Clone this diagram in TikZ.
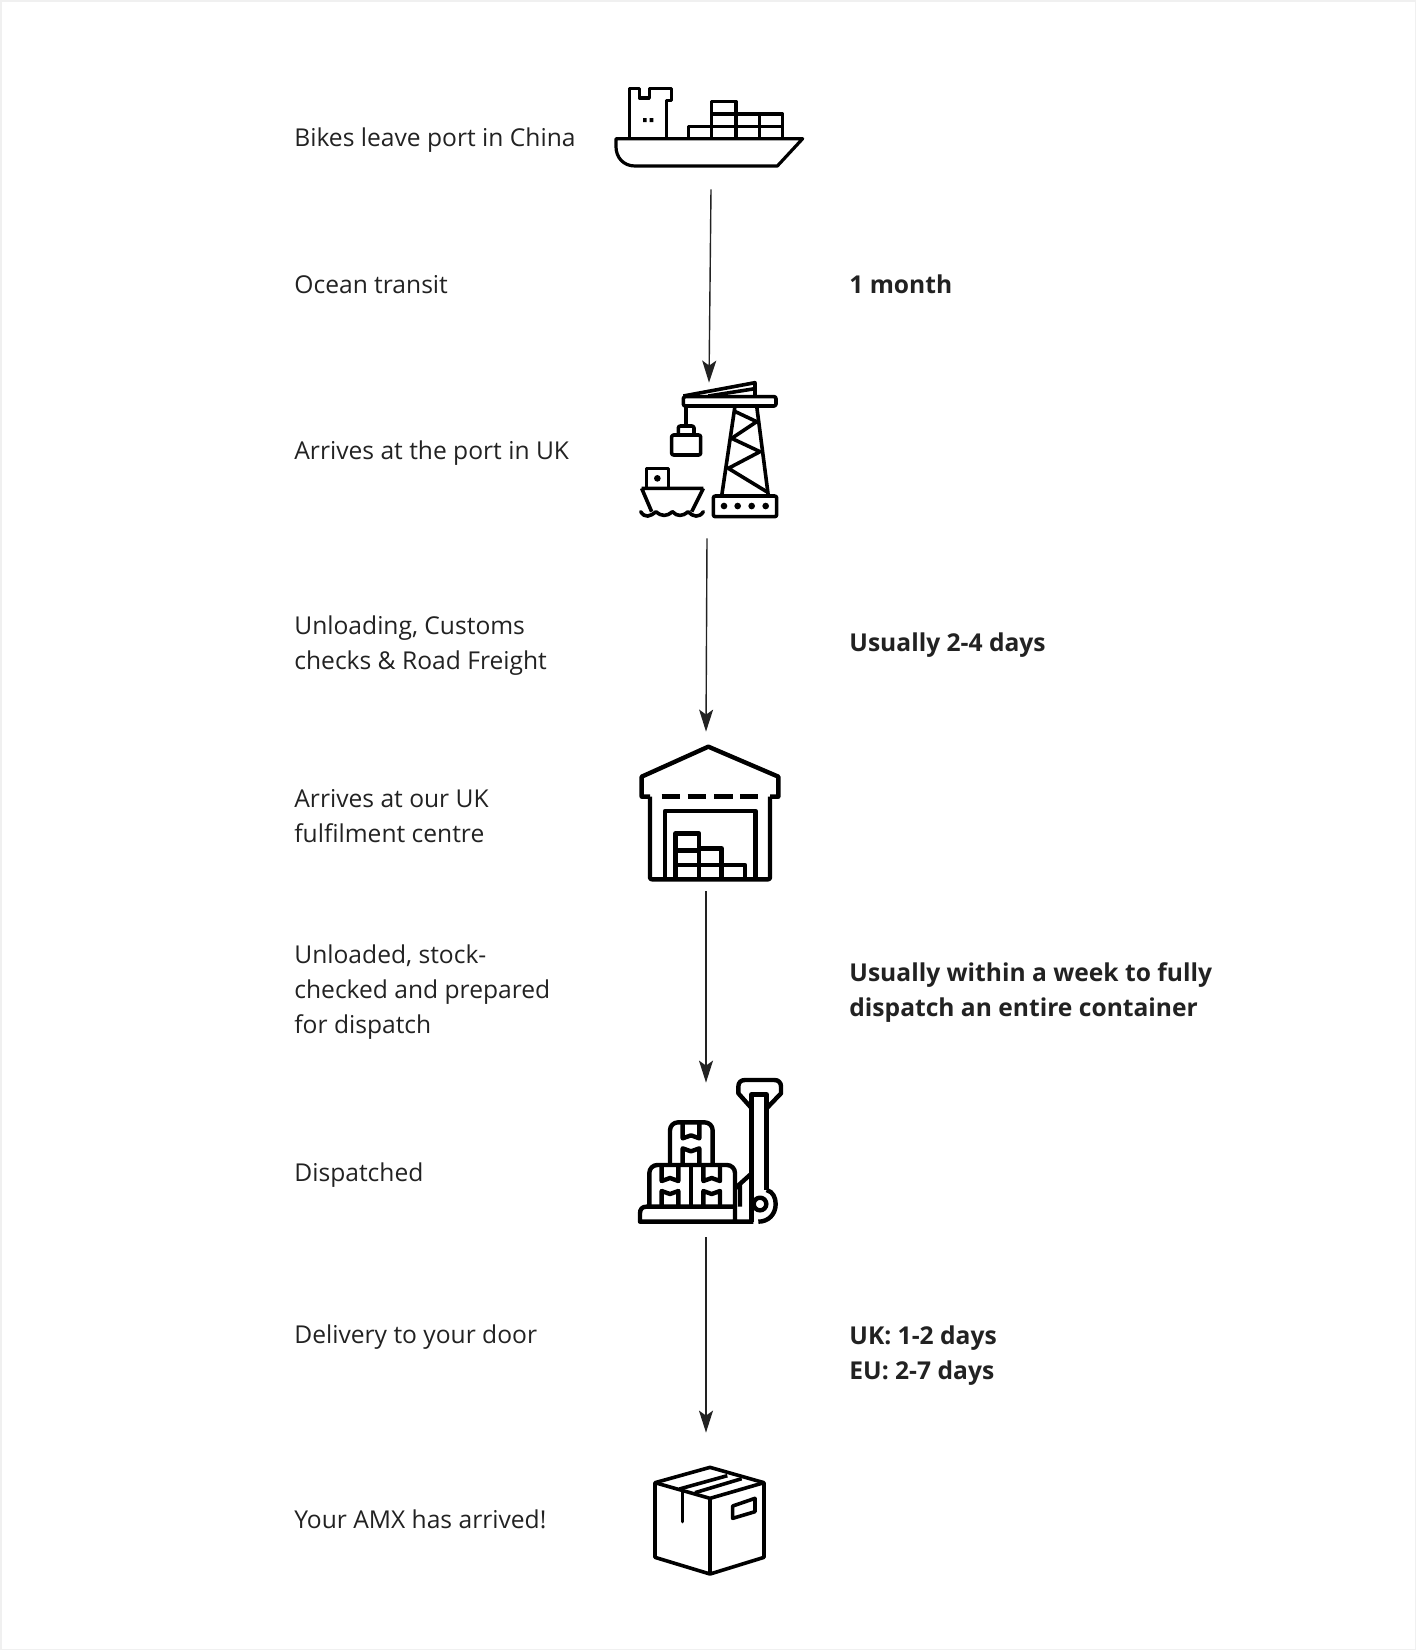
\documentclass[tikz,border=0pt]{standalone}
\usepackage{xcolor}
\usepackage{fontspec}
\setmainfont{Open Sans}
\usetikzlibrary{
  arrows.meta,
  positioning
}
\definecolor{amxInk}{HTML}{222222}
\definecolor{amxEdge}{HTML}{F0F0F0}
\tikzset{
  steplabel/.style={anchor=west, align=left, inner sep=0pt, text=amxInk, font=\fontsize{12.3}{17.5}\selectfont},
  timelabel/.style={steplabel, font=\fontsize{12.3}{17.5}\selectfont\bfseries},
  iconbox/.style={inner sep=0pt, minimum width=75pt},
  flow/.style={-{Stealth[length=11pt, width=7pt, inset=2.5pt]}, line width=0.7pt, amxInk},
  icon/.style={x=0.16667pt, y=-0.16667pt, line join=round, line cap=butt, black},
  thin icon/.style={icon, line width=1.6pt},
  mid icon/.style={icon, line width=1.8pt},
  fat icon/.style={icon, line width=2.2pt}
}
\begin{document}
\begin{tikzpicture}[x=0.5pt, y=-0.5pt]
  \useasboundingbox (0,0) rectangle (1416,1650);
  \draw[amxEdge, line width=1pt] (0.5,0.5) rectangle (1415.5,1649.5);

  \node[steplabel] (bikes) at (294,140) {Bikes leave port in China};
  \node[steplabel] (ocean) at (294,285) {Ocean transit};
  \node[steplabel] (arrport) at (294,453) {Arrives at the port in UK};
  \node[steplabel] (unload) at (294,646) {Unloading, Customs\\checks \& Road Freight};
  \node[steplabel] (arrcentre) at (294,816.5) {Arrives at our UK\\fulfilment centre};
  \node[steplabel] (stock) at (294,992.5) {Unloaded, stock-\\checked and prepared\\for dispatch};
  \node[steplabel] (dispatched) at (294,1175) {Dispatched};
  \node[steplabel] (delivery) at (294,1337) {Delivery to your door};
  \node[steplabel] (arrived) at (294,1519.5) {Your AMX has arrived!};

  \node[timelabel] (month) at (849,284) {1 month};
  \node[timelabel] (days) at (849,645.5) {Usually 2-4 days};
  \node[timelabel] (week) at (849,993) {Usually within a week to fully\\dispatch an entire container};
  \node[timelabel] (uk) at (849,1355.5) {UK: 1-2 days\\EU: 2-7 days};

  \node[iconbox, minimum height=52pt] (ship) at (711,137) {};
  \node[iconbox, minimum height=77.5pt] (crane) at (708,460.5) {};
  \node[iconbox, minimum height=79.5pt] (depot) at (706,811.5) {};
  \node[iconbox, minimum height=77pt] (truck) at (706,1160) {};
  \node[iconbox, minimum height=74pt] (parcel) at (706,1507) {};

  \draw[flow] (ship.south) -- ([xshift=0.5pt]crane.north);
  \draw[flow] ([xshift=-0.5pt]crane.south) -- (depot.north);
  \draw[flow] (depot.south) -- (truck.north);
  \draw[flow] (truck.south) -- (parcel.north);

  % ship
  \begin{scope}[shift={(600,70)}, thin icon]
    \draw (48,206) -- (608,206) -- (532,288) -- (105,288) .. controls (70,288) and (48,262) .. (48,230) -- cycle;
    \draw (88,206) -- (88,56) -- (118,56) -- (118,84) -- (148,84) -- (148,56) -- (215,56) -- (215,92) -- (200,92) -- (200,206);
    \fill (129,144) rectangle (140,156) (149,144) rectangle (160,156);
    \draw (265,206) -- (265,170) -- (548,170) (335,206) -- (335,94) -- (408,94) -- (408,206);
    \draw (335,132) -- (548,132) -- (548,206) (478,132) -- (478,206);
  \end{scope}

  % crane and boat
  \begin{scope}[shift={(620,370)}, mid icon]
    \draw[rounded corners=1pt] (190,80) rectangle (468,108);
    \draw (190,78) -- (405,38) -- (405,80) (265,78) -- (405,56);
    \draw (198,108) -- (198,168);
    \draw[rounded corners=1pt] (175,195) -- (175,168) -- (222,168) -- (222,195);
    \draw[rounded corners=1pt] (155,195) rectangle (242,255);
    \draw (345,108) -- (305,378) (410,108) -- (445,378);
    \draw (340,122) -- (410,155) -- (335,205) -- (420,245) -- (325,295) -- (440,365);
    \draw[rounded corners=1pt] (280,378) rectangle (470,440);
    \foreach \xdot in {312,353,395,437} \fill (\xdot,408) circle[radius=10];
    \draw (80,355) -- (80,295) -- (145,295) -- (145,355);
    \fill (112,325) circle[radius=10];
    \draw (65,355) -- (250,355) (65,355) -- (95,425) (250,355) -- (215,425);
    \draw[line cap=round] (62,425) .. controls (75,445) and (90,440) .. (108,425) .. controls (125,440) and (140,440) .. (157,425) .. controls (172,440) and (187,440) .. (204,425) .. controls (218,440) and (238,445) .. (250,425);
  \end{scope}

  % warehouse
  \begin{scope}[shift={(625,730)}, fat icon]
    \draw (75,200) -- (50,200) -- (50,140) -- (250,50) -- (460,140) -- (460,200) -- (435,200);
    \draw[rounded corners=1pt] (75,200) -- (75,448) -- (435,448) -- (435,200);
    \foreach \xdash in {110,188,268,345} \draw (\xdash,200) -- ++(55,0);
    \draw (120,448) -- (120,243) -- (392,243) -- (392,448);
    \draw (152,448) -- (152,310) -- (222,310) -- (222,448);
    \draw (152,362) -- (222,362) (222,355) -- (290,355) -- (290,448);
    \draw (152,405) -- (360,405) -- (360,448);
  \end{scope}

  % pallet truck
  \begin{scope}[shift={(625,1065)}, fat icon]
    \draw (380,130) -- (340,85) -- (340,65) .. controls (340,52) and (348,45) .. (360,45) -- (448,45) .. controls (460,45) and (468,52) .. (468,65) -- (468,85) -- (425,130);
    \draw (380,470) -- (380,88) -- (425,88) -- (425,375);
    \draw (425,375) .. controls (445,380) and (452,400) .. (452,417) .. controls (452,448) and (430,470) .. (400,470);
    \draw (405,417) circle[radius=19];
    \draw (385,470) -- (45,470) -- (45,445) .. controls (45,432) and (52,425) .. (64,425) -- (330,425) -- (330,470);
    \draw (330,370) -- (380,325) (345,355) -- (345,425);
    \draw[rounded corners=4pt] (135,295) -- (135,172) -- (263,172) -- (263,295);
    \draw[rounded corners=4pt] (73,425) -- (73,300) -- (330,300) -- (330,425);
    \draw (198,300) -- (198,425);
    \foreach \xtape/\ytop in {173/172, 110/300, 235/300} {
      \draw (\xtape,\ytop) -- ++(0,48) -- ++(25,-9) -- ++(25,9) -- ++(0,-48);
      \draw (\xtape,\ytop+123) -- ++(0,-45) -- ++(25,9) -- ++(25,-9) -- ++(0,45);
    }
  \end{scope}

  % parcel
  \begin{scope}[shift={(640,1450)}, mid icon]
    \draw (45,98) -- (210,52) -- (372,98) -- (372,322) -- (210,372) -- (45,322) -- cycle;
    \draw (45,98) -- (210,145) -- (372,98) (210,145) -- (210,372);
    \draw (118,117) -- (262,77) (165,128) -- (305,86);
    \draw[line cap=round] (127,125) -- (127,215);
    \draw (278,168) -- (345,145) -- (345,185) -- (278,205) -- cycle;
  \end{scope}
\end{tikzpicture}
\end{document}
